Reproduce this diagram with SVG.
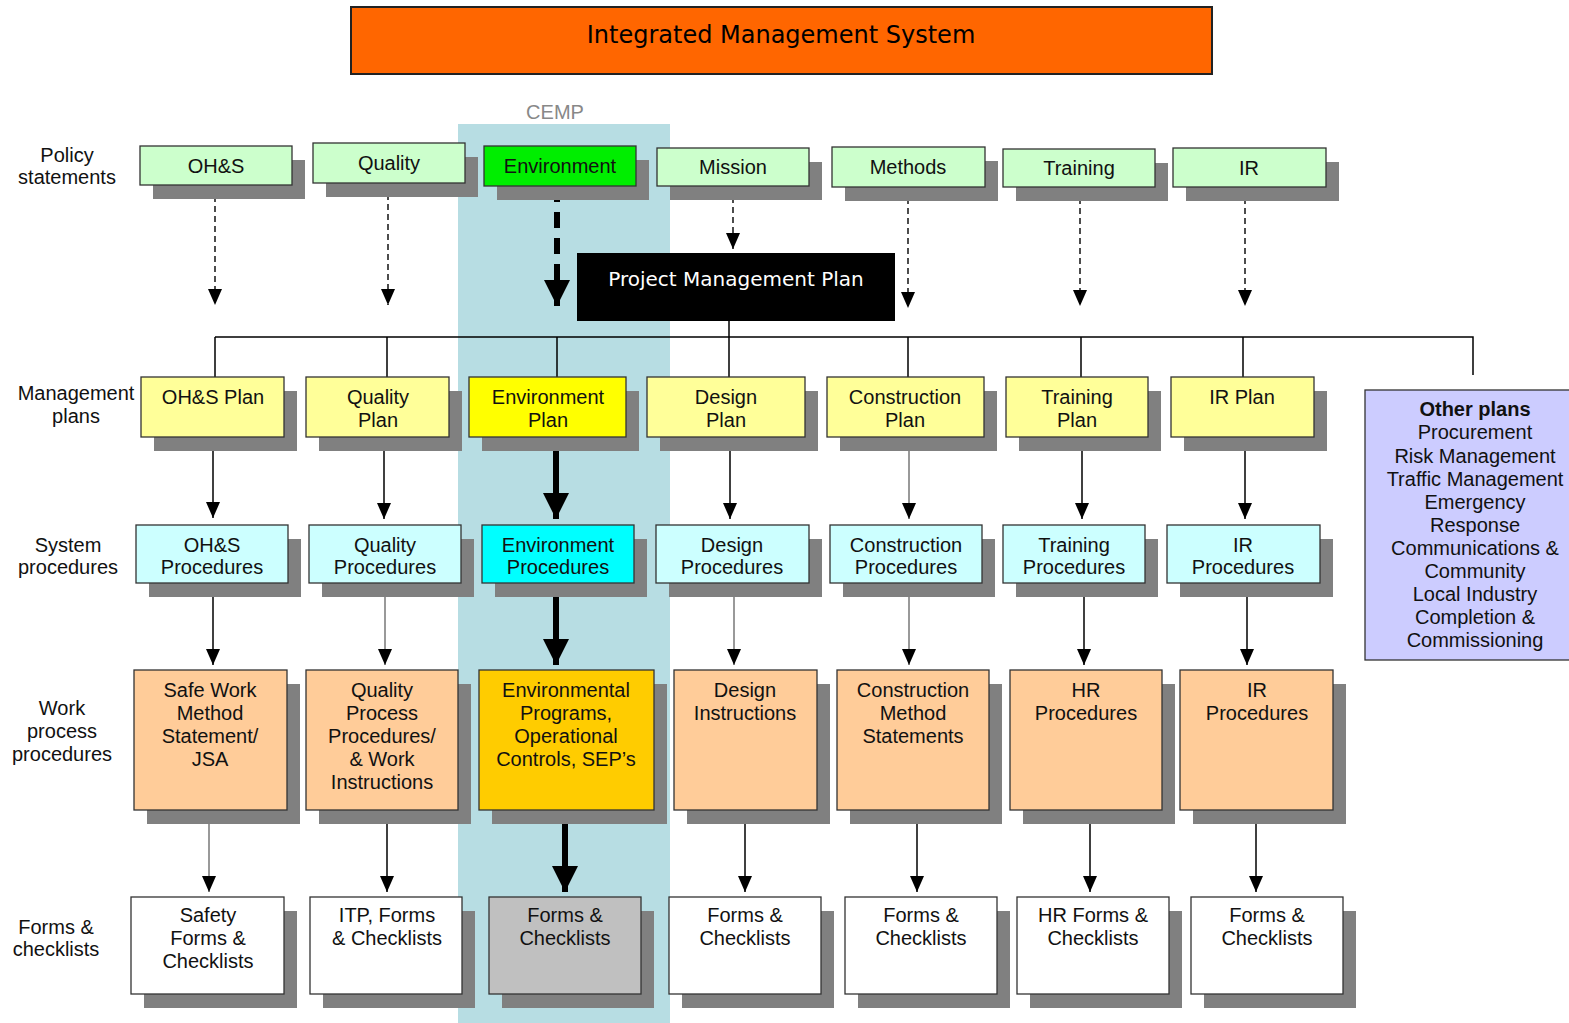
<svg xmlns="http://www.w3.org/2000/svg" width="1569" height="1023" viewBox="0 0 1569 1023">
<style>
text{font-family:"Liberation Sans",Arial,sans-serif;font-size:20px;fill:#111;text-anchor:middle}
.lbl{fill:#222}
.sh{fill:#808080}
.bx{stroke:#333;stroke-width:1.3}
.pol{fill:#CCFFCC}
.mgt{fill:#FFFF99}
.sys{fill:#CCFFFF}
.wrk{fill:#FFCC99}
.frm{fill:#FFFFFF}
.ln{stroke:#000;stroke-width:1.5;fill:none}
.gr{stroke:#777}
.dsh{stroke:#000;stroke-width:1.4;stroke-dasharray:6 4;fill:none}
.thk{stroke:#000;stroke-width:6;fill:none}
</style>
<defs>
<marker id="ah" viewBox="0 0 14 16" refX="7" refY="16" markerWidth="14" markerHeight="16" markerUnits="userSpaceOnUse" orient="0">
<path d="M0,0 L14,0 L7,16 z" fill="#000"/>
</marker>
<marker id="ahb" viewBox="0 0 26 26" refX="13" refY="26" markerWidth="26" markerHeight="26" markerUnits="userSpaceOnUse" orient="0">
<path d="M0,0 L26,0 L13,26 z" fill="#000"/>
</marker>
</defs>
<rect width="1569" height="1023" fill="#fff"/>
<rect id="cemp-band" x="458" y="124" width="212" height="899" fill="#B7DDE3"/>
<text x="555" y="119" style="fill:#888">CEMP</text>

<g id="title">
<rect x="351" y="7" width="861" height="67" fill="#FF6600" stroke="#222" stroke-width="2"/>
<text x="781" y="43" style="font-family:'DejaVu Sans',sans-serif;font-size:24px;fill:#000">Integrated Management System</text>
</g>

<g id="row-labels" class="lbl">
<text x="67" y="162">Policy</text><text x="67" y="184">statements</text>
<text x="76" y="400">Management</text><text x="76" y="423">plans</text>
<text x="68" y="552">System</text><text x="68" y="574">procedures</text>
<text x="62" y="715">Work</text><text x="62" y="738">process</text><text x="62" y="761">procedures</text>
<text x="56" y="934">Forms &amp;</text><text x="56" y="956">checklists</text>
</g>

<g id="connectors">
<path class="dsh" d="M215,186 V305" marker-end="url(#ah)"/>
<path class="dsh" d="M388,184 V305" marker-end="url(#ah)"/>
<path d="M557,186 V306" stroke="#000" stroke-width="6" stroke-dasharray="16 10" fill="none" marker-end="url(#ahb)"/>
<path class="dsh" d="M733,187 V249" marker-end="url(#ah)"/>
<path class="dsh" d="M908,188 V308" marker-end="url(#ah)"/>
<path class="dsh" d="M1080,188 V306" marker-end="url(#ah)"/>
<path class="dsh" d="M1245,188 V306" marker-end="url(#ah)"/>

<path class="ln" d="M729,321 V377 M215,337 H1473 V375 M215,337 V377 M387,337 V377 M557,337 V377 M908,337 V377 M1081,337 V377 M1243,337 V377"/>

<path class="ln" d="M213,437 V518" marker-end="url(#ah)"/>
<path class="ln" d="M384,437 V519" marker-end="url(#ah)"/>
<path class="thk" d="M556,437 V519" marker-end="url(#ahb)"/>
<path class="ln" d="M730,437 V519" marker-end="url(#ah)"/>
<path class="ln gr" d="M909,437 V519" marker-end="url(#ah)"/>
<path class="ln" d="M1082,437 V519" marker-end="url(#ah)"/>
<path class="ln" d="M1245,437 V519" marker-end="url(#ah)"/>

<path class="ln" d="M213,583 V665" marker-end="url(#ah)"/>
<path class="ln gr" d="M385,583 V665" marker-end="url(#ah)"/>
<path class="thk" d="M556,583 V665" marker-end="url(#ahb)"/>
<path class="ln gr" d="M734,583 V665" marker-end="url(#ah)"/>
<path class="ln gr" d="M909,583 V665" marker-end="url(#ah)"/>
<path class="ln" d="M1084,583 V665" marker-end="url(#ah)"/>
<path class="ln" d="M1247,583 V665" marker-end="url(#ah)"/>

<path class="ln gr" d="M209,810 V892" marker-end="url(#ah)"/>
<path class="ln" d="M387,810 V892" marker-end="url(#ah)"/>
<path class="thk" d="M565,810 V892" marker-end="url(#ahb)"/>
<path class="ln" d="M745,810 V892" marker-end="url(#ah)"/>
<path class="ln" d="M917,810 V892" marker-end="url(#ah)"/>
<path class="ln" d="M1090,810 V892" marker-end="url(#ah)"/>
<path class="ln" d="M1256,810 V892" marker-end="url(#ah)"/>
</g>

<!-- Policy statements -->
<g id="pol-ohs"><rect class="sh" x="153" y="160" width="152" height="39"/><rect class="bx pol" x="140" y="146" width="152" height="39"/><text x="216" y="173">OH&amp;S</text></g>
<g id="pol-quality"><rect class="sh" x="326" y="157" width="152" height="40"/><rect class="bx pol" x="313" y="143" width="152" height="40"/><text x="389" y="170">Quality</text></g>
<g id="pol-environment"><rect class="sh" x="497" y="160" width="152" height="40"/><rect class="bx" style="fill:#00EE00" x="484" y="146" width="152" height="40"/><text x="560" y="173">Environment</text></g>
<g id="pol-mission"><rect class="sh" x="670" y="162" width="152" height="38"/><rect class="bx pol" x="657" y="148" width="152" height="38"/><text x="733" y="174">Mission</text></g>
<g id="pol-methods"><rect class="sh" x="845" y="161" width="153" height="40"/><rect class="bx pol" x="832" y="147" width="153" height="40"/><text x="908" y="174">Methods</text></g>
<g id="pol-training"><rect class="sh" x="1016" y="163" width="152" height="38"/><rect class="bx pol" x="1003" y="149" width="152" height="38"/><text x="1079" y="175">Training</text></g>
<g id="pol-ir"><rect class="sh" x="1186" y="162" width="153" height="39"/><rect class="bx pol" x="1173" y="148" width="153" height="39"/><text x="1249" y="175">IR</text></g>

<g id="pmp"><rect x="577" y="253" width="318" height="68" fill="#000"/><text x="736" y="286" style="font-family:'DejaVu Sans',sans-serif;font-size:20px;fill:#fff">Project Management Plan</text></g>

<!-- Management plans -->
<g id="mgt-ohs"><rect class="sh" x="154" y="391" width="143" height="60"/><rect class="bx mgt" x="141" y="377" width="143" height="60"/><text x="213" y="404">OH&amp;S Plan</text></g>
<g id="mgt-quality"><rect class="sh" x="319" y="391" width="143" height="60"/><rect class="bx mgt" x="306" y="377" width="143" height="60"/><text x="378" y="404">Quality</text><text x="378" y="427">Plan</text></g>
<g id="mgt-environment"><rect class="sh" x="482" y="391" width="157" height="60"/><rect class="bx" style="fill:#FFFF00" x="469" y="377" width="157" height="60"/><text x="548" y="404">Environment</text><text x="548" y="427">Plan</text></g>
<g id="mgt-design"><rect class="sh" x="660" y="391" width="158" height="60"/><rect class="bx mgt" x="647" y="377" width="158" height="60"/><text x="726" y="404">Design</text><text x="726" y="427">Plan</text></g>
<g id="mgt-construction"><rect class="sh" x="840" y="391" width="157" height="60"/><rect class="bx mgt" x="827" y="377" width="157" height="60"/><text x="905" y="404">Construction</text><text x="905" y="427">Plan</text></g>
<g id="mgt-training"><rect class="sh" x="1019" y="391" width="142" height="60"/><rect class="bx mgt" x="1006" y="377" width="142" height="60"/><text x="1077" y="404">Training</text><text x="1077" y="427">Plan</text></g>
<g id="mgt-ir"><rect class="sh" x="1184" y="391" width="143" height="60"/><rect class="bx mgt" x="1171" y="377" width="143" height="60"/><text x="1242" y="404">IR Plan</text></g>

<g id="other-plans"><rect class="bx" style="fill:#CCCCFF" x="1365" y="390" width="210" height="270"/>
<text x="1475" y="416" style="font-weight:bold">Other plans</text>
<text x="1475" y="439">Procurement</text>
<text x="1475" y="463">Risk Management</text>
<text x="1475" y="486">Traffic Management</text>
<text x="1475" y="509">Emergency</text>
<text x="1475" y="532">Response</text>
<text x="1475" y="555">Communications &amp;</text>
<text x="1475" y="578">Community</text>
<text x="1475" y="601">Local Industry</text>
<text x="1475" y="624">Completion &amp;</text>
<text x="1475" y="647">Commissioning</text>
</g>

<!-- System procedures -->
<g id="sys-ohs"><rect class="sh" x="149" y="539" width="152" height="58"/><rect class="bx sys" x="136" y="525" width="152" height="58"/><text x="212" y="552">OH&amp;S</text><text x="212" y="574">Procedures</text></g>
<g id="sys-quality"><rect class="sh" x="322" y="539" width="152" height="58"/><rect class="bx sys" x="309" y="525" width="152" height="58"/><text x="385" y="552">Quality</text><text x="385" y="574">Procedures</text></g>
<g id="sys-environment"><rect class="sh" x="495" y="539" width="152" height="58"/><rect class="bx" style="fill:#00FFFF" x="482" y="525" width="152" height="58"/><text x="558" y="552">Environment</text><text x="558" y="574">Procedures</text></g>
<g id="sys-design"><rect class="sh" x="669" y="539" width="153" height="58"/><rect class="bx sys" x="656" y="525" width="153" height="58"/><text x="732" y="552">Design</text><text x="732" y="574">Procedures</text></g>
<g id="sys-construction"><rect class="sh" x="843" y="539" width="152" height="58"/><rect class="bx sys" x="830" y="525" width="152" height="58"/><text x="906" y="552">Construction</text><text x="906" y="574">Procedures</text></g>
<g id="sys-training"><rect class="sh" x="1016" y="539" width="142" height="58"/><rect class="bx sys" x="1003" y="525" width="142" height="58"/><text x="1074" y="552">Training</text><text x="1074" y="574">Procedures</text></g>
<g id="sys-ir"><rect class="sh" x="1180" y="539" width="153" height="58"/><rect class="bx sys" x="1167" y="525" width="153" height="58"/><text x="1243" y="552">IR</text><text x="1243" y="574">Procedures</text></g>

<!-- Work process procedures -->
<g id="wrk-safe"><rect class="sh" x="147" y="684" width="153" height="140"/><rect class="bx wrk" x="134" y="670" width="153" height="140"/><text x="210" y="697">Safe Work</text><text x="210" y="720">Method</text><text x="210" y="743">Statement/</text><text x="210" y="766">JSA</text></g>
<g id="wrk-quality"><rect class="sh" x="319" y="684" width="152" height="140"/><rect class="bx wrk" x="306" y="670" width="152" height="140"/><text x="382" y="697">Quality</text><text x="382" y="720">Process</text><text x="382" y="743">Procedures/</text><text x="382" y="766">&amp; Work</text><text x="382" y="789">Instructions</text></g>
<g id="wrk-environment"><rect class="sh" x="492" y="684" width="175" height="140"/><rect class="bx" style="fill:#FFCC00" stroke-width="2" x="479" y="670" width="175" height="140"/><text x="566" y="697">Environmental</text><text x="566" y="720">Programs,</text><text x="566" y="743">Operational</text><text x="566" y="766">Controls, SEP’s</text></g>
<g id="wrk-design"><rect class="sh" x="687" y="684" width="143" height="140"/><rect class="bx wrk" x="674" y="670" width="143" height="140"/><text x="745" y="697">Design</text><text x="745" y="720">Instructions</text></g>
<g id="wrk-construction"><rect class="sh" x="850" y="684" width="152" height="140"/><rect class="bx wrk" x="837" y="670" width="152" height="140"/><text x="913" y="697">Construction</text><text x="913" y="720">Method</text><text x="913" y="743">Statements</text></g>
<g id="wrk-hr"><rect class="sh" x="1023" y="684" width="152" height="140"/><rect class="bx wrk" x="1010" y="670" width="152" height="140"/><text x="1086" y="697">HR</text><text x="1086" y="720">Procedures</text></g>
<g id="wrk-ir"><rect class="sh" x="1193" y="684" width="153" height="140"/><rect class="bx wrk" x="1180" y="670" width="153" height="140"/><text x="1257" y="697">IR</text><text x="1257" y="720">Procedures</text></g>

<!-- Forms & checklists -->
<g id="frm-safety"><rect class="sh" x="144" y="911" width="153" height="97"/><rect class="bx frm" x="131" y="897" width="153" height="97"/><text x="208" y="922">Safety</text><text x="208" y="945">Forms &amp;</text><text x="208" y="968">Checklists</text></g>
<g id="frm-itp"><rect class="sh" x="323" y="911" width="152" height="97"/><rect class="bx frm" x="310" y="897" width="152" height="97"/><text x="387" y="922">ITP, Forms</text><text x="387" y="945">&amp; Checklists</text></g>
<g id="frm-environment"><rect class="sh" x="502" y="911" width="152" height="97"/><rect class="bx" style="fill:#C0C0C0" x="489" y="897" width="152" height="97"/><text x="565" y="922">Forms &amp;</text><text x="565" y="945">Checklists</text></g>
<g id="frm-design"><rect class="sh" x="682" y="911" width="152" height="97"/><rect class="bx frm" x="669" y="897" width="152" height="97"/><text x="745" y="922">Forms &amp;</text><text x="745" y="945">Checklists</text></g>
<g id="frm-construction"><rect class="sh" x="858" y="911" width="152" height="97"/><rect class="bx frm" x="845" y="897" width="152" height="97"/><text x="921" y="922">Forms &amp;</text><text x="921" y="945">Checklists</text></g>
<g id="frm-hr"><rect class="sh" x="1030" y="911" width="152" height="97"/><rect class="bx frm" x="1017" y="897" width="152" height="97"/><text x="1093" y="922">HR Forms &amp;</text><text x="1093" y="945">Checklists</text></g>
<g id="frm-ir"><rect class="sh" x="1204" y="911" width="152" height="97"/><rect class="bx frm" x="1191" y="897" width="152" height="97"/><text x="1267" y="922">Forms &amp;</text><text x="1267" y="945">Checklists</text></g>
</svg>
